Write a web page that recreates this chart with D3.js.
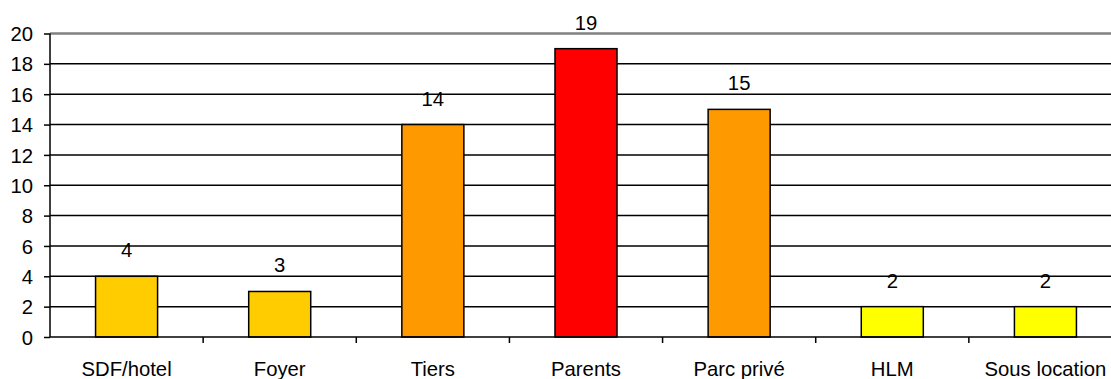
<!DOCTYPE html>
<html><head><meta charset="utf-8">
<script src="https://cdn.jsdelivr.net/npm/d3@7"></script>
<style>body{margin:0;background:#fff}svg{display:block}text{font-family:"Liberation Sans",Arial,sans-serif}</style>
</head><body><svg id="c" width="1111" height="379"></svg>
<script>
const categories = ["SDF/hotel","Foyer","Tiers","Parents","Parc privé","HLM","Sous location"];
const values = [4,3,14,19,15,2,2];
const colors = ["#FFCC00","#FFCC00","#FF9900","#FF0000","#FF9900","#FFFF00","#FFFF00"];
const yTicks = [0,2,4,6,8,10,12,14,16,18,20];

const svg = d3.select("#c");
const mLeft = 50, mRight = 1122, mTop = 33.5, mBottom = 337;
const FS = 20.3;
const x = d3.scaleBand().domain(categories).range([mLeft, mRight]).paddingInner(0.595).paddingOuter(0.2975);
const xb = d3.scaleBand().domain(categories).range([mLeft, mRight]);
const y = d3.scaleLinear().domain([0,20]).range([mBottom, mTop]);

// gridlines
svg.append("g").selectAll("line").data(yTicks.filter(d=>d>0)).join("line")
  .attr("x1", mLeft).attr("x2", 1111)
  .attr("y1", d=>y(d)).attr("y2", d=>y(d))
  .attr("stroke", d=> d===20 ? "#808080" : "#000")
  .attr("stroke-width", d=> d===20 ? 2.6 : 1.5);

// bars
svg.append("g").selectAll("rect").data(values).join("rect")
  .attr("x", (d,i)=>x(categories[i]))
  .attr("y", d=>y(d))
  .attr("width", x.bandwidth())
  .attr("height", d=>y(0)-y(d))
  .attr("fill", (d,i)=>colors[i])
  .attr("stroke", "#000").attr("stroke-width", 1.5);

// value labels
svg.append("g").selectAll("text").data(values).join("text")
  .attr("x", (d,i)=>xb(categories[i]) + xb.bandwidth()/2)
  .attr("y", d=>y(d)-19)
  .attr("text-anchor","middle").attr("font-size",FS).attr("fill","#000")
  .text(d=>d);

// y axis
const yAxis = d3.axisLeft(y).tickValues(yTicks).tickSize(6).tickPadding(11);
const gy = svg.append("g").attr("transform", `translate(${mLeft},0)`).call(yAxis);
gy.select(".domain").attr("stroke","#000").attr("stroke-width",1.5).attr("d", `M0,${mTop}V${mBottom}`);
gy.selectAll(".tick line").attr("stroke","#000").attr("stroke-width",1.5);
gy.selectAll(".tick text").attr("font-size",FS).attr("font-family","'Liberation Sans',Arial,sans-serif").attr("fill","#000").attr("dy","0.35em");

// x axis
svg.append("line").attr("x1",mLeft).attr("x2",1111).attr("y1",mBottom).attr("y2",mBottom).attr("stroke","#000").attr("stroke-width",1.5);
svg.append("g").selectAll("line").data(categories.slice(1)).join("line")
  .attr("x1", d=>xb(d)).attr("x2", d=>xb(d))
  .attr("y1", mBottom).attr("y2", mBottom+6).attr("stroke","#000").attr("stroke-width",1.5);
svg.append("g").selectAll("text").data(categories).join("text")
  .attr("x", d=>xb(d)+xb.bandwidth()/2).attr("y", 376)
  .attr("text-anchor","middle").attr("font-size",FS).attr("fill","#000")
  .text(d=>d);
</script></body></html>
